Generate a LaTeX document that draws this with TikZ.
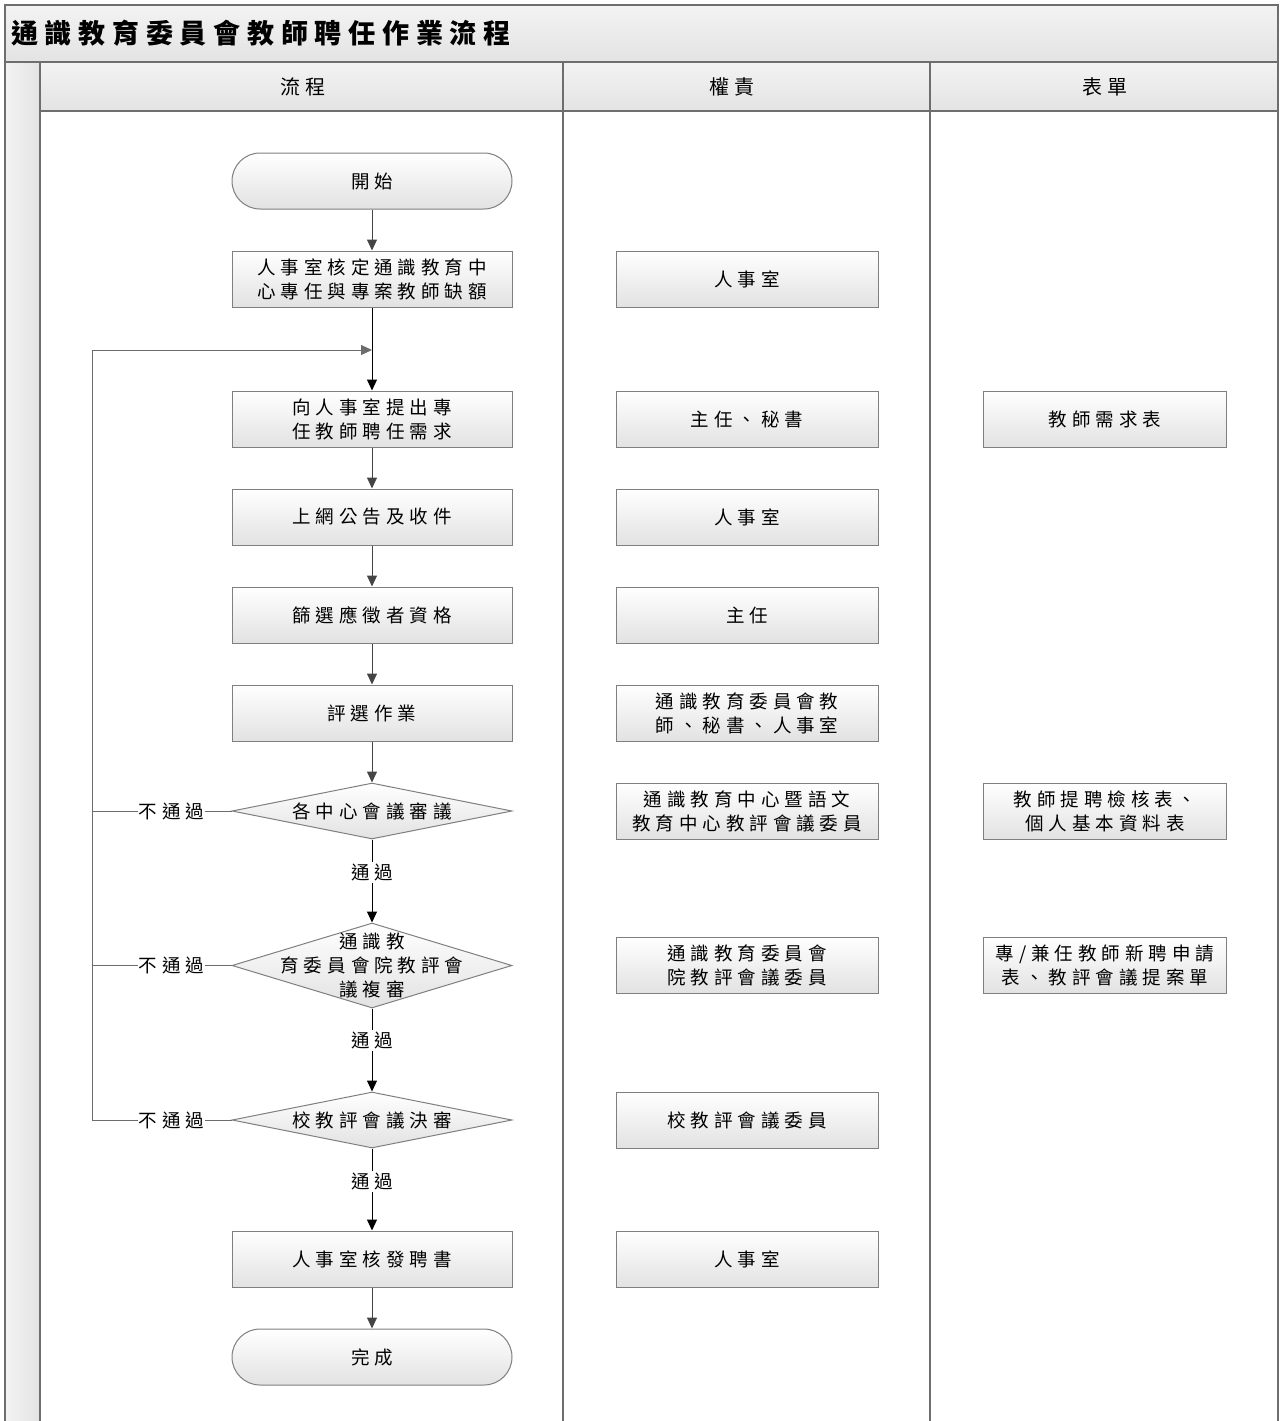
\documentclass[tikz,border=0pt]{standalone}
\usepackage{fontspec}
\usetikzlibrary{arrows.meta,shapes.geometric}
\newfontfamily\cjk[LetterSpace=27]{Noto Sans CJK TC}
\newfontfamily\cjktitle[LetterSpace=25]{Noto Sans CJK TC}
\definecolor{frameln}{HTML}{6E6E6E}
\definecolor{boxln}{HTML}{7F7F7F}
\definecolor{boxbot}{HTML}{E2E2E2}
\definecolor{bandtop}{HTML}{F3F3F3}
\definecolor{bandbot}{HTML}{E3E3E3}
\definecolor{arrln}{HTML}{454545}
\begin{document}
\begin{tikzpicture}[x=1pt,y=-1pt,
  boxfont/.style={font=\cjk\fontsize{18.5}{24}\selectfont},
  procbox/.style={draw=boxln, line width=1pt, top color=white, bottom color=boxbot,
    minimum width=280pt, minimum height=56pt, inner sep=0pt, align=center, boxfont},
  rolebox/.style={procbox, minimum width=262pt},
  formbox/.style={procbox, minimum width=243pt},
  terminal/.style={procbox, rounded corners=28pt},
  decision/.style={shape=diamond, draw=boxln, line width=1pt, top color=white, bottom color=boxbot,
    minimum width=280pt, minimum height=56pt, inner sep=0pt},
  dtext/.style={align=center, inner sep=0pt, boxfont},
  lbl/.style={fill=white, inner sep=2pt, boxfont},
  flow/.style={draw=arrln, line width=1pt, -{Triangle[length=11pt,width=10pt]}},
  passflow/.style={draw=black, line width=1pt, -{Triangle[length=11pt,width=10pt]}},
  back/.style={draw=gray!85!black, line width=1pt},
  hdr/.style={font=\cjk\fontsize{20}{24}\selectfont, inner sep=0pt},
]
\useasboundingbox (0,0) rectangle (1280,1421);
% frame bands
\shade[top color=bandtop, bottom color=bandbot] (5,5) rectangle (1278,62);
\shade[top color=bandtop, bottom color=bandbot] (40,62) rectangle (1278,111);
\shade[left color=bandtop, right color=bandbot] (5,62) rectangle (40,1425);
\draw[frameln, line width=2pt] (5,1425) -- (5,5) -- (1278,5) -- (1278,1425);
\draw[frameln, line width=2pt] (5,62) -- (1278,62);
\draw[frameln, line width=2pt] (40,111) -- (1278,111);
\draw[frameln, line width=2pt] (40,62) -- (40,1425);
\draw[frameln, line width=2pt] (563,62) -- (563,1425);
\draw[frameln, line width=2pt] (930,62) -- (930,1425);
\node[anchor=west, inner sep=0pt, font=\cjktitle\bfseries\fontsize{27}{30}\selectfont] (title) at (11,33) {通識教育委員會教師聘任作業流程};
\node[hdr] (h1) at (303,87) {流程};
\node[hdr] (h2) at (732,87) {權責};
\node[hdr] (h3) at (1105,87) {表單};

% flow column
\node[terminal] (start) at (372,181) {開始};
\node[procbox] (b1) at (372,279) {人事室核定通識教育中\\心專任與專案教師缺額};
\coordinate (m) at (372,350);
\node[procbox] (b2) at (372,419) {向人事室提出專\\任教師聘任需求};
\node[procbox] (b3) at (372,517) {上網公告及收件};
\node[procbox] (b4) at (372,615) {篩選應徵者資格};
\node[procbox] (b5) at (372,713) {評選作業};
\node[decision] (d1) at (372,811) {};
\node[dtext] (t1) at (d1) {各中心會議審議};
\node[decision, minimum height=85pt] (d2) at (372,965.5) {};
\node[dtext] (t2) at (d2) {通識教\\育委員會院教評會\\議複審};
\node[decision] (d3) at (372,1120) {};
\node[dtext] (t3) at (d3) {校教評會議決審};
\node[procbox] (b6) at (372,1259) {人事室核發聘書};
\node[terminal] (fin) at (372,1357) {完成};

% role column
\node[rolebox] (r1) at (747,279) {人事室};
\node[rolebox] (r2) at (747,419) {主任、秘書};
\node[rolebox] (r3) at (747,517) {人事室};
\node[rolebox] (r4) at (747,615) {主任};
\node[rolebox] (r5) at (747,713) {通識教育委員會教\\師、秘書、人事室};
\node[rolebox] (r6) at (747,811) {通識教育中心暨語文\\教育中心教評會議委員};
\node[rolebox] (r7) at (747,965) {通識教育委員會\\院教評會議委員};
\node[rolebox] (r8) at (747,1120) {校教評會議委員};
\node[rolebox] (r9) at (747,1259) {人事室};

% form column
\node[formbox] (f1) at (1105,419) {教師需求表};
\node[formbox] (f2) at (1105,811) {教師提聘檢核表、\\個人基本資料表};
\node[formbox] (f3) at (1105,965) {專/兼任教師新聘申請\\表、教評會議提案單};

% connectors
\draw[flow] (start) -- (b1);
\draw[passflow] (b1) -- (b2);
\draw[flow] (b2) -- (b3);
\draw[flow] (b3) -- (b4);
\draw[flow] (b4) -- (b5);
\draw[flow] (b5) -- (d1);
\draw[passflow] (d1) -- node[lbl, pos=0.4] {通過} (d2);
\draw[passflow] (d2) -- node[lbl, pos=0.38] {通過} (d3);
\draw[passflow] (d3) -- node[lbl, pos=0.4] {通過} (b6);
\draw[flow] (b6) -- (fin);

% reject loops
\coordinate (L1) at (92,811);
\coordinate (L2) at (92,965.5);
\coordinate (L3) at (92,1120);
\coordinate (L0) at (92,350);
\draw[back] (d1.west) -- node[lbl, pos=0.43, inner sep=1pt] {不通過} (L1);
\draw[back] (d2.west) -- node[lbl, pos=0.43, inner sep=1pt] {不通過} (L2);
\draw[back] (d3.west) -- node[lbl, pos=0.43, inner sep=1pt] {不通過} (L3);
\draw[back, -{Triangle[length=11pt,width=10pt]}] (L3) -- (L0) -- (m);
\end{tikzpicture}
\end{document}
